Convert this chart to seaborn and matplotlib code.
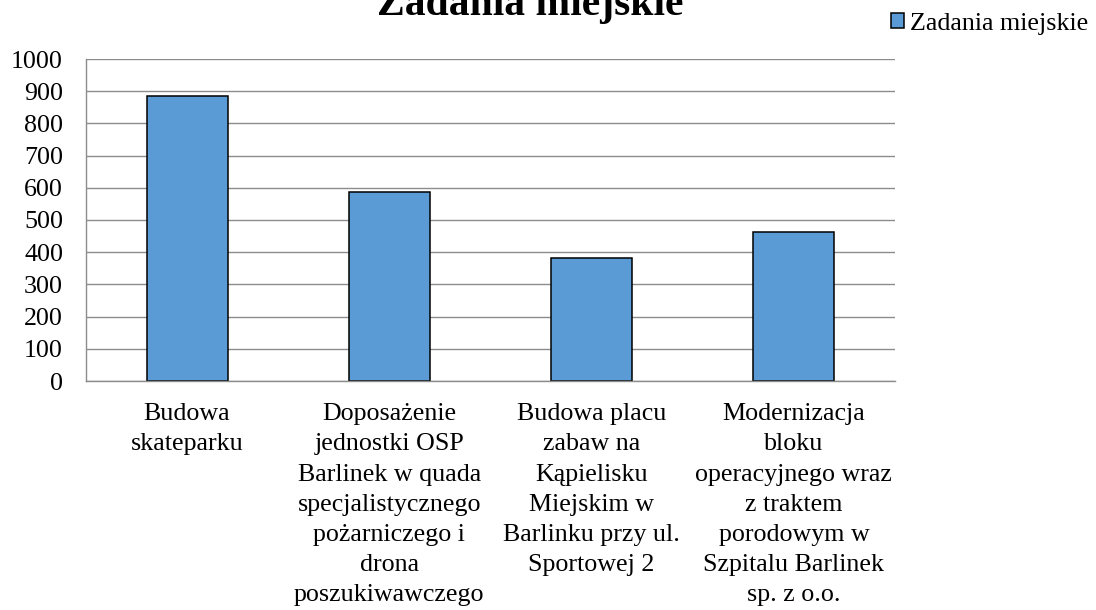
import pandas as pd
import matplotlib
matplotlib.use("Agg")
import matplotlib.pyplot as plt
import seaborn as sns

# Data
categories = [
    "Budowa\nskateparku",
    "Doposażenie\njednostki OSP\nBarlinek w quada\nspecjalistycznego\npożarniczego i\ndrona\nposzukiwawczego",
    "Budowa placu\nzabaw na\nKąpielisku\nMiejskim w\nBarlinku przy ul.\nSportowej 2",
    "Modernizacja\nbloku\noperacyjnego wraz\nz traktem\nporodowym w\nSzpitalu Barlinek\nsp. z o.o.",
]
values = [884, 586, 381, 462]
y_ticks = list(range(0, 1001, 100))
series_name = "Zadania miejskie"
title = "Zadania miejskie"

data = pd.DataFrame({"Zadanie": categories, "Wartość": values})

sns.set_style("white")
plt.rcParams["font.family"] = ["Liberation Serif", "DejaVu Serif"]
plt.rcParams["text.color"] = "black"

fs = 18.7
fig = plt.figure(figsize=(10.96, 6.10), dpi=100)
ax = fig.add_axes([86 / 1096, 1 - 381 / 610, (895 - 86) / 1096, (381 - 59) / 610])

sns.barplot(data=data, x="Zadanie", y="Wartość", color="#5B9BD5", width=0.4,
            edgecolor="black", linewidth=1.1, saturation=1, label=series_name, ax=ax)
if ax.get_legend() is not None:
    ax.get_legend().remove()

grid_color = "#8C8C8C"
ax.set_ylim(0, 1000)
ax.set_xlim(-0.5, len(categories) - 0.5)
ax.set_yticks(y_ticks)
ax.set_yticklabels([str(v) for v in y_ticks], fontsize=fs)
ax.yaxis.grid(True, color=grid_color, linewidth=1)
ax.set_axisbelow(True)

# category labels at centres, tick marks at category boundaries
ax.set_xticks(range(len(categories)))
ax.set_xticklabels(categories, fontsize=fs, linespacing=1.48)
ax.set_xticks([i - 0.5 for i in range(len(categories) + 1)], minor=True)
ax.tick_params(axis="x", which="major", length=0, pad=16)
ax.tick_params(axis="x", which="minor", length=5.5, width=1, color=grid_color, direction="out")
ax.tick_params(axis="y", length=6.5, width=1, color=grid_color, direction="out", pad=10)
ax.tick_params(axis="both", labelcolor="black")

for side in ["top", "right"]:
    ax.spines[side].set_visible(False)
for side in ["left", "bottom"]:
    ax.spines[side].set_color(grid_color)
    ax.spines[side].set_linewidth(1)

ax.set_xlabel("")
ax.set_ylabel("")

fig.text(530 / 1096, 1 - 15 / 610, title, ha="center", va="baseline",
         fontsize=30, fontweight="bold", color="black")

handles, labels = ax.get_legend_handles_labels()
fig.legend(handles, labels, loc="center left", bbox_to_anchor=(891 / 1096, 1 - 24 / 610),
           frameon=False, fontsize=fs, handlelength=0.5, handleheight=0.5,
           handletextpad=0.25, borderpad=0, borderaxespad=0)

fig.savefig("out.png", dpi=100)
